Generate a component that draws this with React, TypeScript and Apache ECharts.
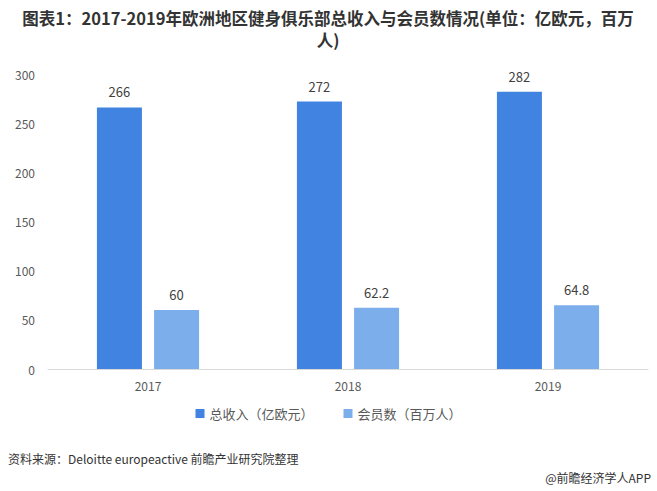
import React, { useEffect, useRef } from "react";
import * as echarts from "echarts";

const categories = ["2017", "2018", "2019"];
const revenue = [266, 272, 282];
const members = [60, 62.2, 64.8];
const seriesNames = ["总收入（亿欧元）", "会员数（百万人）"];
const yTicks = { min: 0, max: 300, interval: 50 };
const titleLines = ["图表1：2017-2019年欧洲地区健身俱乐部总收入与会员数情况(单位：亿欧元，百万", "人)"];

export default function App() {
  const ref = useRef<HTMLDivElement>(null);
  useEffect(() => {
    if (!ref.current) return;
    const chart = echarts.init(ref.current, null, { renderer: "svg" });
    const font = '"Microsoft YaHei", "Noto Sans CJK SC", "Noto Sans", sans-serif';
    const titleStyle = {
      fontSize: 16.5,
      fontWeight: "bold",
      fill: "#333",
      align: "center",
      verticalAlign: "middle",
      fontFamily: font,
    };
    chart.setOption({
      animation: false,
      textStyle: { fontFamily: font },
      legend: {
        bottom: 66,
        left: "center",
        itemWidth: 9,
        itemHeight: 9,
        itemGap: 30,
        icon: "rect",
        textStyle: { fontSize: 13, color: "#595959" },
        data: seriesNames,
      },
      grid: { left: 48, right: 9, top: 74, bottom: 122, containLabel: false },
      xAxis: {
        type: "category",
        data: categories,
        axisLine: { lineStyle: { color: "#d9d9d9" } },
        axisTick: { show: false },
        axisLabel: { color: "#595959", fontSize: 12, margin: 10 },
      },
      yAxis: {
        type: "value",
        min: yTicks.min,
        max: yTicks.max,
        interval: yTicks.interval,
        splitLine: { show: false },
        axisLine: { show: false },
        axisTick: { show: false },
        axisLabel: { color: "#595959", fontSize: 12, margin: 13 },
      },
      series: [
        {
          name: seriesNames[0],
          type: "bar",
          data: revenue,
          barWidth: 45,
          barGap: "27%",
          itemStyle: { color: "#4083E0" },
          label: { show: true, position: "top", distance: 9, color: "#404040", fontSize: 13 },
        },
        {
          name: seriesNames[1],
          type: "bar",
          data: members,
          barWidth: 45,
          itemStyle: { color: "#7CAEEC" },
          label: { show: true, position: "top", distance: 9, color: "#404040", fontSize: 13 },
        },
      ],
      graphic: [
        { type: "text", x: 328, y: 17.5, style: { ...titleStyle, text: titleLines[0] } },
        { type: "text", x: 328, y: 39.5, style: { ...titleStyle, text: titleLines[1] } },
        {
          type: "text",
          left: 8,
          top: 452,
          style: { text: "资料来源：Deloitte europeactive 前瞻产业研究院整理", fontSize: 12, fill: "#333", fontFamily: font },
        },
        {
          type: "text",
          right: 6,
          top: 471,
          style: { text: "@前瞻经济学人APP", fontSize: 12, fill: "#333", fontFamily: font },
        },
      ],
    });
    return () => chart.dispose();
  }, []);
  return <div ref={ref} style={{ width: 657, height: 491, position: "absolute", left: 0, top: 0 }} />;
}
